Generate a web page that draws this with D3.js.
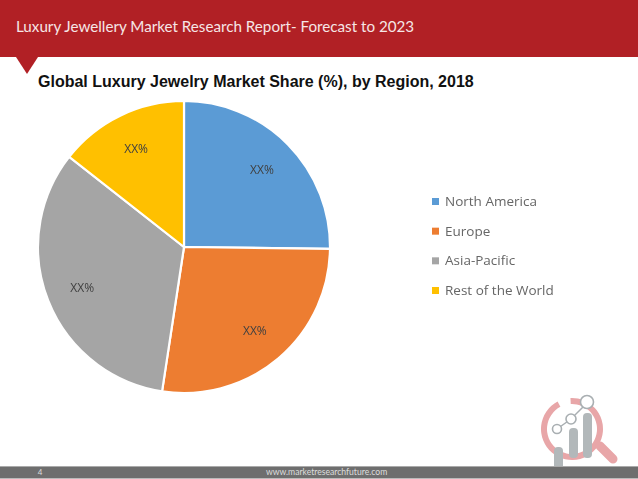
<!DOCTYPE html>
<html><head><meta charset="utf-8">
<script src="https://cdn.jsdelivr.net/npm/d3@7"></script>
<style>html,body{margin:0;padding:0;background:#fff}svg{display:block}</style></head>
<body><div id="c"></div>
<script>
const categories=["North America","Europe","Asia-Pacific","Rest of the World"];
const shares=[25.2,27.2,33.2,14.4];
const labels=["XX%","XX%","XX%","XX%"];
const colors=["#5B9BD5","#ED7D31","#A5A5A5","#FFC000"];
const headerText="Luxury Jewellery Market Research Report- Forecast to 2023";
const chartTitle="Global Luxury Jewelry Market Share (%), by Region, 2018";
const pageNo="4";
const site="www.marketresearchfuture.com";

const svg=d3.select("#c").append("svg").attr("width",638).attr("height",479);
const defs=svg.append("defs");
defs.append("filter").attr("id","soft").append("feGaussianBlur").attr("stdDeviation",0.55);

// header
svg.append("rect").attr("width",638).attr("height",57).attr("fill","#B12025");
svg.append("path").attr("d","M16,57L38,57L27,74Z").attr("fill","#B12025");
svg.append("text").attr("x",16).attr("y",32).attr("fill","#f6e6e6")
  .style("font-family","Lato").style("font-size","15.2px").text(headerText);
svg.append("text").attr("x",38).attr("y",87).attr("fill","#111")
  .style("font-family","Liberation Sans").style("font-weight","bold").style("font-size","16px").text(chartTitle);

// pie
const cx=184,cy=247,R=146;
const pie=d3.pie().sort(null).value(d=>d)(shares);
const arc=d3.arc().innerRadius(0).outerRadius(R);
const lab=d3.arc().innerRadius(R*0.75).outerRadius(R*0.75);
const g=svg.append("g").attr("transform",`translate(${cx},${cy})`);
g.selectAll("path").data(pie).join("path").attr("d",arc)
  .attr("fill",(d,i)=>colors[i]).attr("stroke","#fff").attr("stroke-width",2.2);
const labelPos=d3.scaleOrdinal().domain(categories).range(categories);
g.selectAll("text").data(pie).join("text")
  .attr("transform",d=>{const c=lab.centroid(d);return `translate(${c[0]},${c[1]})`;})
  .attr("text-anchor","middle").attr("dy","0.35em").attr("fill","#404040").attr("filter","url(#soft)")
  .style("font-family","Open Sans").style("font-size","12px")
  .text((d,i)=>labels[i]);

// legend
const ly=d3.scalePoint().domain(categories).range([201,290]);
const lg=svg.append("g").selectAll("g").data(categories).join("g")
  .attr("transform",d=>`translate(432,${ly(d)})`);
lg.append("rect").attr("x",0).attr("y",-3).attr("width",7).attr("height",7)
  .attr("fill",(d,i)=>colors[i]);
lg.append("text").attr("x",13).attr("dy","0.36em").attr("fill","#666").attr("filter","url(#soft)")
  .style("font-family","Open Sans").style("font-size","13.5px").text(d=>d);

// logo
const logo=svg.append("g").attr("filter","url(#soft)");
logo.append("path").attr("d",d3.arc().innerRadius(25).outerRadius(31).startAngle(-0.05).endAngle(5.8)())
  .attr("transform","translate(572,429)").attr("fill","#E8A6A8");
logo.append("path").attr("d","M600,446L613,459").attr("stroke","#E8A6A8").attr("stroke-width",9).attr("stroke-linecap","round");
[[558,446,9,23],[573,428,9,30],[587,413,9,45]].forEach(b=>logo.append("rect")
  .attr("x",b[0]-4).attr("y",b[1]-(b[0]==558?-1:0)+0).attr("width",b[2]).attr("height",b[3]).attr("rx",4).attr("fill","#B2B8BA"));
logo.append("path").attr("d","M557,429L571,419L587,403").attr("stroke","#A9AFB2").attr("stroke-width",1.5).attr("fill","none");
[[557,429,4.5],[571,419,5],[587,402,6.5]].forEach(c=>logo.append("circle")
  .attr("cx",c[0]).attr("cy",c[1]).attr("r",c[2]).attr("fill","#fff").attr("stroke","#A9AFB2").attr("stroke-width",1.6));

// footer
svg.append("rect").attr("y",466).attr("width",638).attr("height",13).attr("fill","#6E6E6E");
svg.append("rect").attr("y",466).attr("width",638).attr("height",1).attr("fill","#aaa");
svg.append("rect").attr("y",478).attr("width",638).attr("height",1).attr("fill","#bbb");
svg.append("text").attr("x",40).attr("y",475).attr("fill","#ddd").style("font-family","Lato").style("font-size","8px").attr("text-anchor","middle").text(pageNo);
svg.append("text").attr("x",266).attr("y",475).attr("fill","#ddd").style("font-family","Lato").style("font-size","8.6px").text(site);
</script></body></html>
